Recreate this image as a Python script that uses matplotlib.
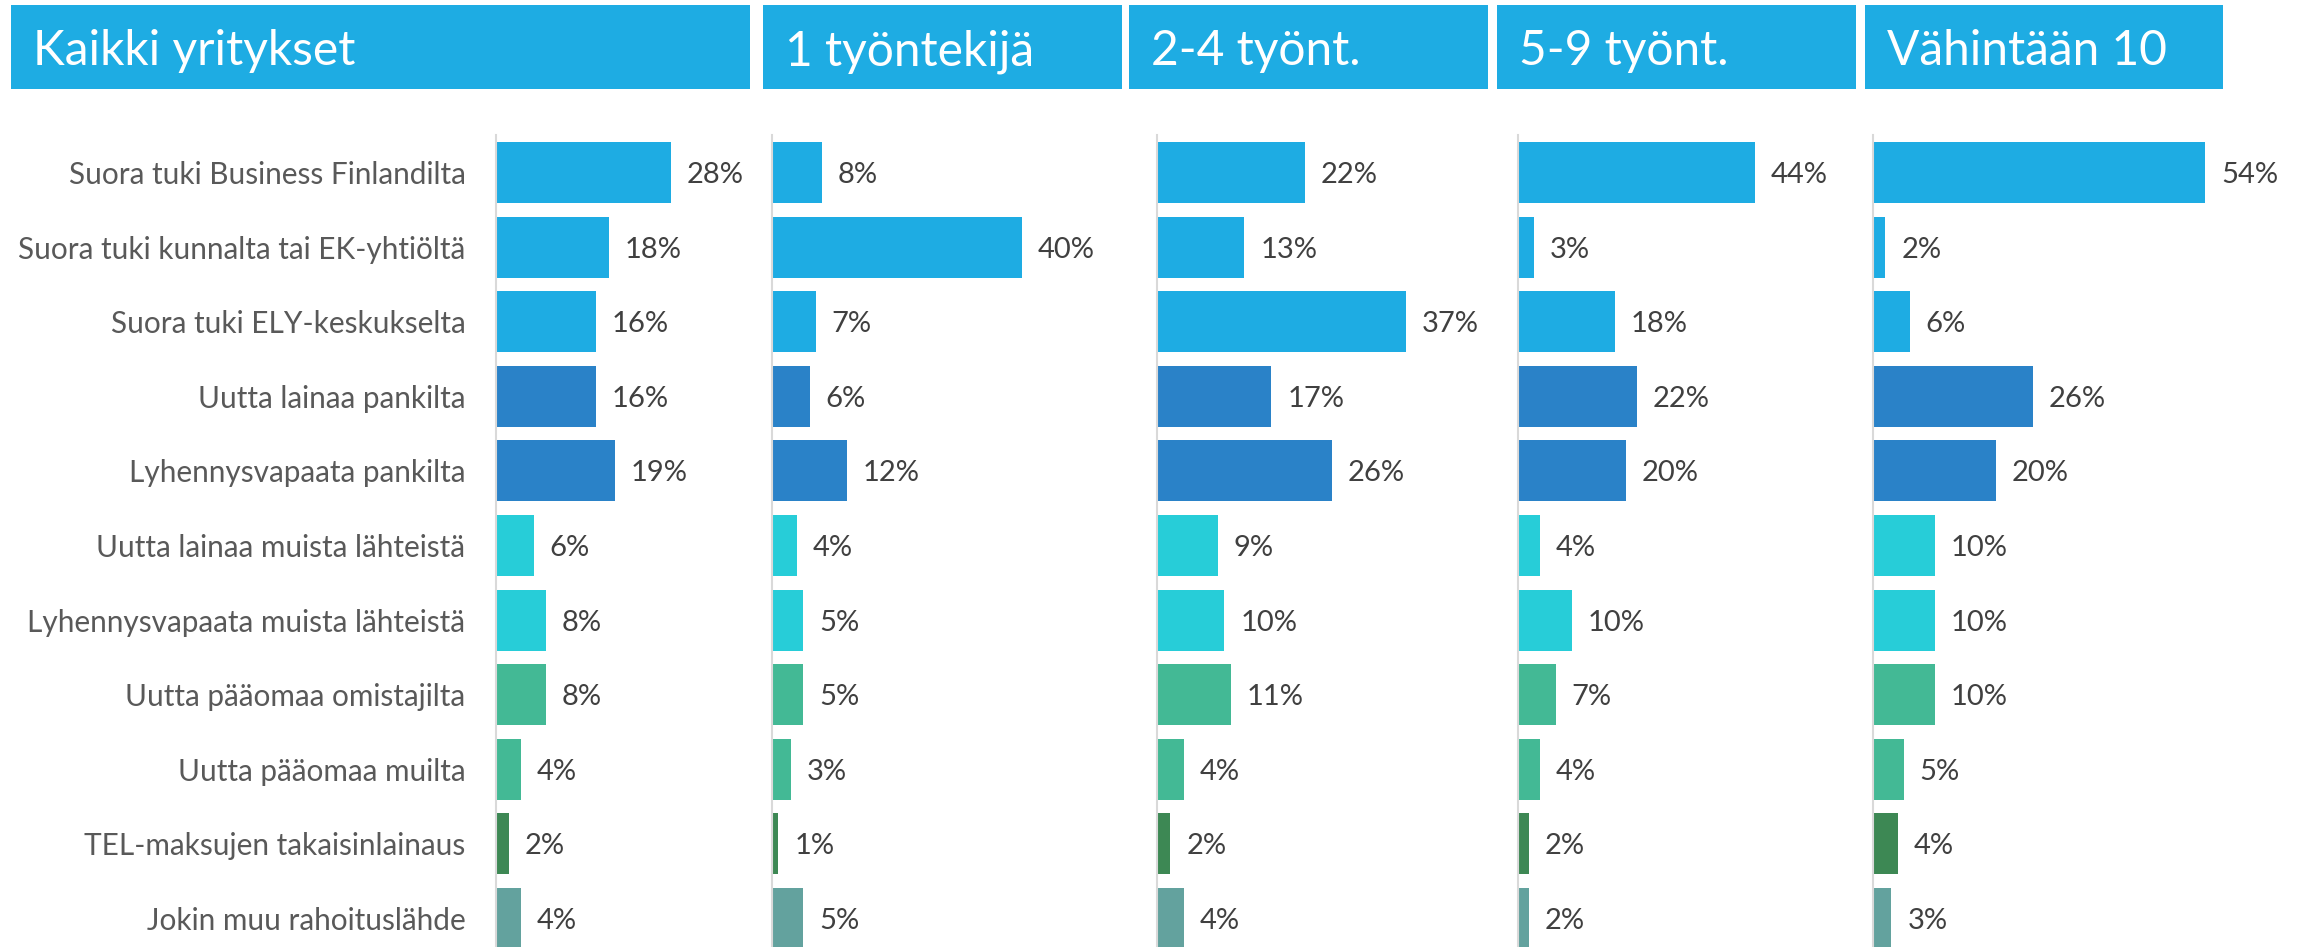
import matplotlib
matplotlib.use("Agg")
import matplotlib.pyplot as plt
from matplotlib.patches import Rectangle

plt.rcParams["font.family"] = ["Lato", "DejaVu Sans"]

# ---------------- data ----------------
categories = [
    "Suora tuki Business Finlandilta",
    "Suora tuki kunnalta tai EK-yhtiöltä",
    "Suora tuki ELY-keskukselta",
    "Uutta lainaa pankilta",
    "Lyhennysvapaata pankilta",
    "Uutta lainaa muista lähteistä",
    "Lyhennysvapaata muista lähteistä",
    "Uutta pääomaa omistajilta",
    "Uutta pääomaa muilta",
    "TEL-maksujen takaisinlainaus",
    "Jokin muu rahoituslähde",
]
groups = ["Kaikki yritykset", "1 työntekijä", "2-4 työnt.", "5-9 työnt.", "Vähintään 10"]

kaikki_yritykset = [28, 18, 16, 16, 19, 6, 8, 8, 4, 2, 4]
tyontekija_1 = [8, 40, 7, 6, 12, 4, 5, 5, 3, 1, 5]
tyont_2_4 = [22, 13, 37, 17, 26, 9, 10, 11, 4, 2, 4]
tyont_5_9 = [44, 3, 18, 22, 20, 4, 10, 7, 4, 2, 2]
vahintaan_10 = [54, 2, 6, 26, 20, 10, 10, 10, 5, 4, 3]

# ---------------- style ----------------
header_color = "#1EACE3"
bar_colors = ["#1EACE3", "#1EACE3", "#1EACE3",
              "#2A82C8", "#2A82C8",
              "#27CDD8", "#27CDD8",
              "#43B995", "#43B995",
              "#3D8854",
              "#63A29E"]

W, H = 2302, 947
fig = plt.figure(figsize=(W / 100, H / 100), dpi=100)
fig.patch.set_facecolor("white")


def fx(px):
    return px / W


def fy(py):
    return 1 - py / H


header_boxes = [(11, 750), (763, 1122), (1129, 1488), (1497, 1856), (1865, 2223)]
header_top, header_bot = 5.5, 89.5
axis_x = [496, 772, 1157, 1518, 1873]
px_per_pct = [6.25, 6.25, 6.73, 5.39, 6.15]

n = len(categories)
row0, step = 172.5, 74.6
ax_top = row0 - step / 2
ax_bottom = ax_top + n * step

series = [kaikki_yritykset, tyontekija_1, tyont_2_4, tyont_5_9, vahintaan_10]

for i, (title, vals) in enumerate(zip(groups, series)):
    x0, x1 = header_boxes[i]
    fig.add_artist(Rectangle((fx(x0), fy(header_bot)), fx(x1 - x0),
                             (header_bot - header_top) / H,
                             transform=fig.transFigure, facecolor=header_color,
                             edgecolor="none"))
    fig.text(fx(x0 + 22), fy(65), title, color="white", fontsize=34.5,
             ha="left", va="baseline")

    ax = fig.add_axes([fx(axis_x[i]), fy(ax_bottom), fx(x1 - axis_x[i]),
                       (ax_bottom - ax_top) / H])
    ypos = list(range(n))
    ax.barh(ypos, vals, height=0.82, color=bar_colors, zorder=2)
    ax.set_ylim(n - 0.5, -0.5)
    ax.set_xlim(0, (x1 - axis_x[i]) / px_per_pct[i])
    for s in ["top", "right", "bottom"]:
        ax.spines[s].set_visible(False)
    ax.spines["left"].set_color("#D9D9D9")
    ax.spines["left"].set_linewidth(1.5)
    ax.set_xticks([])
    ax.patch.set_alpha(0)
    if i == 0:
        ax.set_yticks(ypos)
        ax.set_yticklabels(categories, fontsize=21.4, color="#595959")
        ax.tick_params(axis="y", length=0, pad=22)
    else:
        ax.set_yticks([])
    for j, v in enumerate(vals):
        ax.annotate(f"{v}%", xy=(v, j), xytext=(11.5, 0),
                    textcoords="offset points", va="center_baseline",
                    ha="left", fontsize=21, color="#404040",
                    annotation_clip=False)

fig.savefig("out.png", dpi=100, facecolor="white")
